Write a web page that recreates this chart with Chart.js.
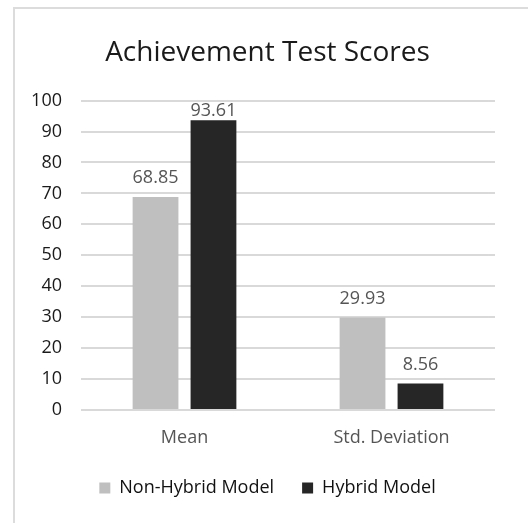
<!DOCTYPE html>
<html>
<head>
<meta charset="utf-8">
<script src="https://cdn.jsdelivr.net/npm/chart.js@4"></script>
<style>
  html, body { margin: 0; padding: 0; background: #fff; }
  #wrap { position: relative; width: 528px; height: 523px; overflow: hidden; }
  #frame { position: absolute; left: 13px; top: 7px; right: -10px; bottom: -10px;
           border-left: 2px solid #dcdcdc; border-top: 2px solid #dcdcdc; }
  canvas { position: absolute; left: 0; top: 0; }
</style>
</head>
<body>
<div id="wrap">
  <div id="frame"></div>
  <canvas id="scores" width="528" height="523"></canvas>
</div>
<script>
// ── data ──
const categories = ['Mean', 'Std. Deviation'];
const nonHybrid = [68.85, 29.93];
const hybrid = [93.61, 8.56];
const seriesNames = ['Non-Hybrid Model', 'Hybrid Model'];

const FONT = "'Open Sans', sans-serif";
const LEGEND_PAD = 28;

// values printed above each bar (kept inside the plot area, like Excel does)
const barValues = {
  id: 'barValues',
  afterDatasetsDraw(chart) {
    const { ctx, chartArea } = chart;
    ctx.save();
    ctx.font = `18px ${FONT}`;
    ctx.fillStyle = '#555';
    ctx.textAlign = 'center';
    ctx.textBaseline = 'middle';
    chart.data.datasets.forEach((ds, i) => {
      chart.getDatasetMeta(i).data.forEach((bar, j) => {
        const y = Math.max(bar.y - 19, chartArea.top + 10);
        ctx.fillText(ds.data[j].toFixed(2), bar.x, y);
      });
    });
    ctx.restore();
  }
};

new Chart(document.getElementById('scores'), {
  type: 'bar',
  data: {
    labels: categories,
    datasets: [
      { label: seriesNames[0], data: nonHybrid, backgroundColor: '#bfbfbf' },
      { label: seriesNames[1], data: hybrid, backgroundColor: '#262626' }
    ]
  },
  options: {
    responsive: false,
    animation: false,
    devicePixelRatio: 1,
    datasets: { bar: { categoryPercentage: 0.56, barPercentage: 0.79 } },
    layout: { padding: { left: 20, right: 13, top: 0, bottom: 16 } },
    plugins: {
      title: {
        display: true,
        text: 'Achievement Test Scores',
        color: '#1a1a1a',
        font: { family: FONT, size: 28, weight: 'normal' },
        padding: { top: 36, bottom: 31 }
      },
      legend: {
        position: 'bottom',
        labels: {
          color: '#111',
          font: { family: FONT, size: 18 },
          boxWidth: 11, boxHeight: 11,
          padding: LEGEND_PAD
        }
      },
      tooltip: { enabled: false }
    },
    scales: {
      x: {
        grid: { display: false, drawTicks: false },
        border: { display: false },
        ticks: { color: '#555', font: { family: FONT, size: 18 }, padding: 17 },
        afterFit(scale) { scale.height = 69 - LEGEND_PAD; }
      },
      y: {
        min: 0, max: 100,
        ticks: { stepSize: 10, color: '#1a1a1a', font: { family: FONT, size: 18 }, padding: 19 },
        grid: { color: '#d9d9d9', lineWidth: 2, drawTicks: false },
        border: { display: false },
        afterFit(scale) { scale.width = 61; }
      },
      // empty right-hand spacer so the plot ends where the original does
      yRight: {
        position: 'right',
        grid: { display: false, drawTicks: false },
        border: { display: false },
        ticks: { display: false },
        afterFit(scale) { scale.width = 20; }
      }
    }
  },
  plugins: [barValues]
});
</script>
</body>
</html>
